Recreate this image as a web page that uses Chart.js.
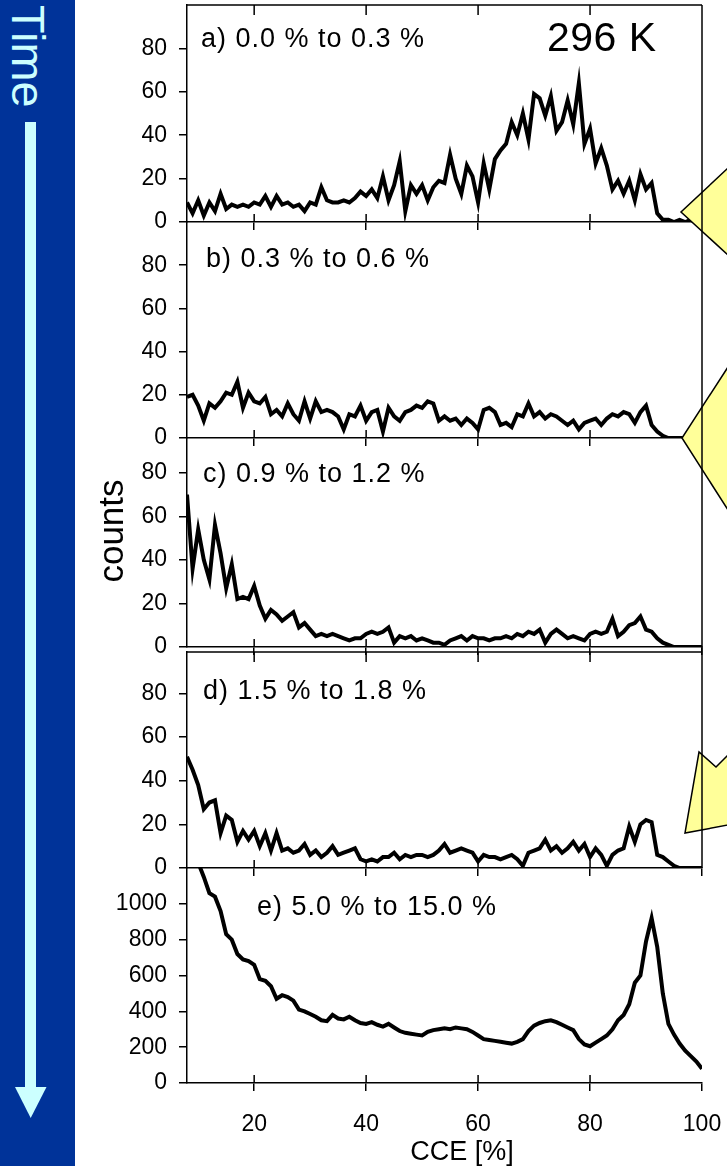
<!DOCTYPE html>
<html>
<head>
<meta charset="utf-8">
<script src="https://cdn.jsdelivr.net/npm/chart.js@4.4.1/dist/chart.umd.min.js"></script>
<style>
  html, body { margin: 0; padding: 0; background: #fff; }
  #page { position: relative; width: 727px; height: 1166px; overflow: hidden; font-family: "Liberation Sans", Arial, sans-serif; }
  .panel { position: absolute; left: 0; width: 727px; }
  #deco { position: absolute; left: 0; top: 0; z-index: 5; pointer-events: none; }
</style>
</head>
<body>
<div id="page">
  <svg id="deco" width="727" height="1166" font-family="Liberation Sans, Arial, sans-serif">
    <rect x="0" y="0" width="75" height="1166" fill="#003399"/>
    <text transform="translate(12,5) rotate(90)" font-size="47" fill="#ccffff">Time</text>
    <rect x="25" y="122" width="11" height="966" fill="#ccffff"/>
    <polygon points="15,1087 46.5,1087 30.7,1118" fill="#ccffff"/>

    <text transform="translate(123,531) rotate(-90)" text-anchor="middle" font-size="35" fill="#000">counts</text>
    <text x="462" y="1160" text-anchor="middle" font-size="27" fill="#000">CCE [%]</text>

    <g font-size="27" fill="#000" letter-spacing="1">
      <text x="201" y="47">a) 0.0 % to 0.3 %</text>
      <text x="206" y="267">b) 0.3 % to 0.6 %</text>
      <text x="203" y="482">c) 0.9 % to 1.2 %</text>
      <text x="203" y="699">d) 1.5 % to 1.8 %</text>
      <text x="257" y="915">e) 5.0 % to 15.0 %</text>
    </g>
    <text x="547" y="51" font-size="41" letter-spacing="0.5" fill="#000">296 K</text>

    <g fill="#ffff99" stroke="#000" stroke-width="1.5" stroke-linejoin="miter">
      <polygon points="728,168 681,212 728,255"/>
      <polygon points="728,367 682,438 728,510"/>
      <polygon points="728,755 716,767 699,752 685,833 728,825"/>
    </g>
    <line x1="702" y1="5" x2="702" y2="868" stroke="#000" stroke-width="1.5"/>
  </svg>
</div>
<script>
// CCE bins (%)
const cce = [
  8, 9, 10, 11, 12, 13, 14, 15, 16, 17,
  18, 19, 20, 21, 22, 23, 24, 25, 26, 27,
  28, 29, 30, 31, 32, 33, 34, 35, 36, 37,
  38, 39, 40, 41, 42, 43, 44, 45, 46, 47,
  48, 49, 50, 51, 52, 53, 54, 55, 56, 57,
  58, 59, 60, 61, 62, 63, 64, 65, 66, 67,
  68, 69, 70, 71, 72, 73, 74, 75, 76, 77,
  78, 79, 80, 81, 82, 83, 84, 85, 86, 87,
  88, 89, 90, 91, 92, 93, 94, 95, 96, 97,
  98, 99, 100
];

// a) 0.0 % to 0.3 %
const countsA = [
  9, 4, 10, 3, 9, 5, 13, 6, 8, 7,
  8, 7, 9, 8, 12, 7, 12, 8, 9, 7,
  8, 5, 9, 8, 16, 10, 9, 9, 10, 9,
  11, 14, 12, 15, 11, 21, 10, 17, 28, 5,
  17, 13, 17, 10, 16, 19, 18, 31, 20, 13,
  26, 21, 9, 27, 15, 29, 33, 36, 46, 40,
  50, 38, 59, 57, 49, 58, 42, 46, 56, 45,
  64, 36, 43, 27, 34, 26, 15, 19, 13, 19,
  10, 22, 15, 18, 4, 1, 1, 0, 1, 0,
  1, 0, 1
];

// b) 0.3 % to 0.6 %
const countsB = [
  19, 20, 15, 8, 16, 14, 17, 21, 20, 26,
  14, 21, 17, 16, 19, 11, 13, 10, 16, 11,
  8, 17, 9, 17, 12, 13, 12, 10, 4, 11,
  10, 15, 8, 12, 13, 3, 14, 10, 8, 12,
  13, 15, 14, 17, 16, 8, 10, 8, 9, 6,
  9, 7, 4, 13, 14, 12, 6, 7, 5, 11,
  10, 16, 10, 12, 9, 11, 10, 8, 6, 8,
  4, 7, 8, 9, 6, 9, 11, 10, 12, 11,
  7, 12, 15, 6, 3, 1, 0, 0, 0, 0,
  0, 0, 0
];

// c) 0.9 % to 1.2 %
const countsC = [
  70, 36, 54, 40, 31, 56, 43, 27, 38, 22,
  23, 22, 28, 19, 13, 17, 15, 12, 14, 16,
  9, 11, 8, 5, 6, 5, 6, 5, 4, 3,
  4, 4, 6, 7, 6, 7, 9, 2, 5, 4,
  5, 3, 4, 3, 2, 2, 1, 3, 4, 5,
  3, 5, 4, 4, 3, 4, 4, 5, 4, 6,
  5, 7, 6, 8, 2, 6, 8, 6, 4, 5,
  4, 3, 6, 7, 6, 7, 13, 5, 7, 10,
  11, 14, 8, 7, 4, 2, 1, 0, 0, 0,
  0, 0, 0
];

// d) 1.5 % to 1.8 %
const countsD = [
  51, 45, 38, 27, 30, 31, 16, 24, 22, 12,
  17, 13, 17, 10, 16, 8, 16, 8, 9, 7,
  8, 11, 6, 8, 5, 7, 10, 6, 7, 8,
  9, 4, 3, 4, 3, 5, 5, 7, 4, 6,
  5, 6, 6, 5, 6, 8, 11, 7, 8, 9,
  8, 7, 3, 6, 5, 5, 4, 5, 6, 4,
  1, 7, 8, 9, 13, 8, 10, 7, 9, 12,
  8, 11, 5, 9, 6, 1, 6, 8, 9, 19,
  12, 20, 22, 21, 6, 5, 3, 1, 0, 0,
  0, 0, 0
];

// e) 5.0 % to 15.0 %
const countsE = [
  1500, 1380, 1230, 1150, 1060, 1040, 960, 830, 800, 720,
  690, 680, 660, 580, 570, 540, 470, 490, 480, 460,
  410, 400, 385, 370, 350, 345, 380, 360, 355, 370,
  350, 335, 330, 340, 325, 315, 330, 310, 290, 280,
  275, 270, 265, 285, 295, 300, 305, 300, 310, 305,
  300, 285, 265, 245, 240, 235, 230, 225, 220, 230,
  245, 290, 320, 335, 345, 350, 340, 325, 310, 295,
  245, 215, 205, 225, 245, 265, 300, 350, 380, 440,
  560, 600, 790, 920, 760, 500, 330, 270, 220, 180,
  150, 120, 80
];

const seriesList = [countsA, countsB, countsC, countsD, countsE];

// panel boxes on the page (plot-area top/bottom) and y ranges
const panelBoxes = [
  { top: 5,   bottom: 222,  yMax: 100,  yStep: 20,  yLast: 80,   frameTop: true },
  { top: 222, bottom: 438,  yMax: 100,  yStep: 20,  yLast: 80 },
  { top: 438, bottom: 647,  yMax: 96,   yStep: 20,  yLast: 80 },
  { top: 652, bottom: 868,  yMax: 99,   yStep: 20,  yLast: 80,   frameTop: true },
  { top: 868, bottom: 1083, yMax: 1200, yStep: 200, yLast: 1000, xLabels: true }
];

Chart.defaults.font.family = '"Liberation Sans", Arial, sans-serif';
Chart.defaults.color = '#000';

// tick marks inside the plot (upward from the x axis, downward from a top frame)
const innerTicks = {
  id: 'innerTicks',
  afterDraw(chart, args, opts) {
    const { ctx, chartArea: area, scales: { x } } = chart;
    ctx.save();
    ctx.strokeStyle = '#000';
    ctx.lineWidth = 1.5;
    ctx.beginPath();
    if (opts.frameTop) {
      ctx.moveTo(area.left, area.top);
      ctx.lineTo(area.right, area.top);
    }
    x.ticks.forEach(t => {
      const px = x.getPixelForValue(t.value);
      if (px > area.right - 2) return;
      ctx.moveTo(px, area.bottom);
      ctx.lineTo(px, area.bottom - 8);
      if (opts.frameTop) {
        ctx.moveTo(px, area.top);
        ctx.lineTo(px, area.top + 10);
      }
    });
    ctx.stroke();
    ctx.restore();
  }
};

const PAD_TOP = 12;
const PAD_BOTTOM = 12;
const X_LABEL_SPACE = 83;

panelBoxes.forEach((box, i) => {
  const wrap = document.createElement('div');
  wrap.className = 'panel';
  const below = box.xLabels ? X_LABEL_SPACE : PAD_BOTTOM;
  wrap.style.top = (box.top - PAD_TOP) + 'px';
  wrap.style.height = (box.bottom - box.top + PAD_TOP + below) + 'px';
  const canvas = document.createElement('canvas');
  wrap.appendChild(canvas);
  document.getElementById('page').appendChild(wrap);

  const values = seriesList[i];

  new Chart(canvas, {
    type: 'line',
    data: {
      datasets: [{
        data: cce.map((c, k) => ({ x: c, y: values[k] })),
        borderColor: '#000',
        borderWidth: 4,
        pointRadius: 0,
        tension: 0
      }]
    },
    options: {
      responsive: true,
      maintainAspectRatio: false,
      animation: false,
      layout: { padding: { top: PAD_TOP, bottom: box.xLabels ? 0 : PAD_BOTTOM, left: 0, right: 25 } },
      plugins: {
        legend: { display: false },
        tooltip: { enabled: false },
        innerTicks: { frameTop: !!box.frameTop }
      },
      scales: {
        x: {
          type: 'linear',
          min: 8,
          max: 100,
          afterBuildTicks: s => { s.ticks = s.ticks.filter(t => t.value % 20 === 0); },
          afterFit: s => {
            s.height = box.xLabels ? X_LABEL_SPACE : 0;
            s.paddingLeft = 0;
            s.paddingRight = 0;
          },
          ticks: {
            display: !!box.xLabels,
            stepSize: 20,
            padding: 20,
            maxRotation: 0,
            font: { size: 23 },
            callback: v => String(v)
          },
          grid: { drawOnChartArea: false, tickLength: 8, color: '#000', lineWidth: 1.5 },
          border: { color: '#000', width: 1.5 }
        },
        y: {
          min: 0,
          max: box.yMax,
          afterBuildTicks: s => { s.ticks = s.ticks.filter(t => t.value <= box.yLast); },
          afterFit: s => {
            s.width = 187;
            s.paddingTop = 0;
            s.paddingBottom = 0;
          },
          ticks: { stepSize: box.yStep, padding: 12, font: { size: 23 }, callback: v => String(v) },
          grid: { drawOnChartArea: false, tickLength: 8, color: '#000', lineWidth: 1.5 },
          border: { color: '#000', width: 1.5 }
        }
      }
    },
    plugins: [innerTicks]
  });
});
</script>
</body>
</html>
